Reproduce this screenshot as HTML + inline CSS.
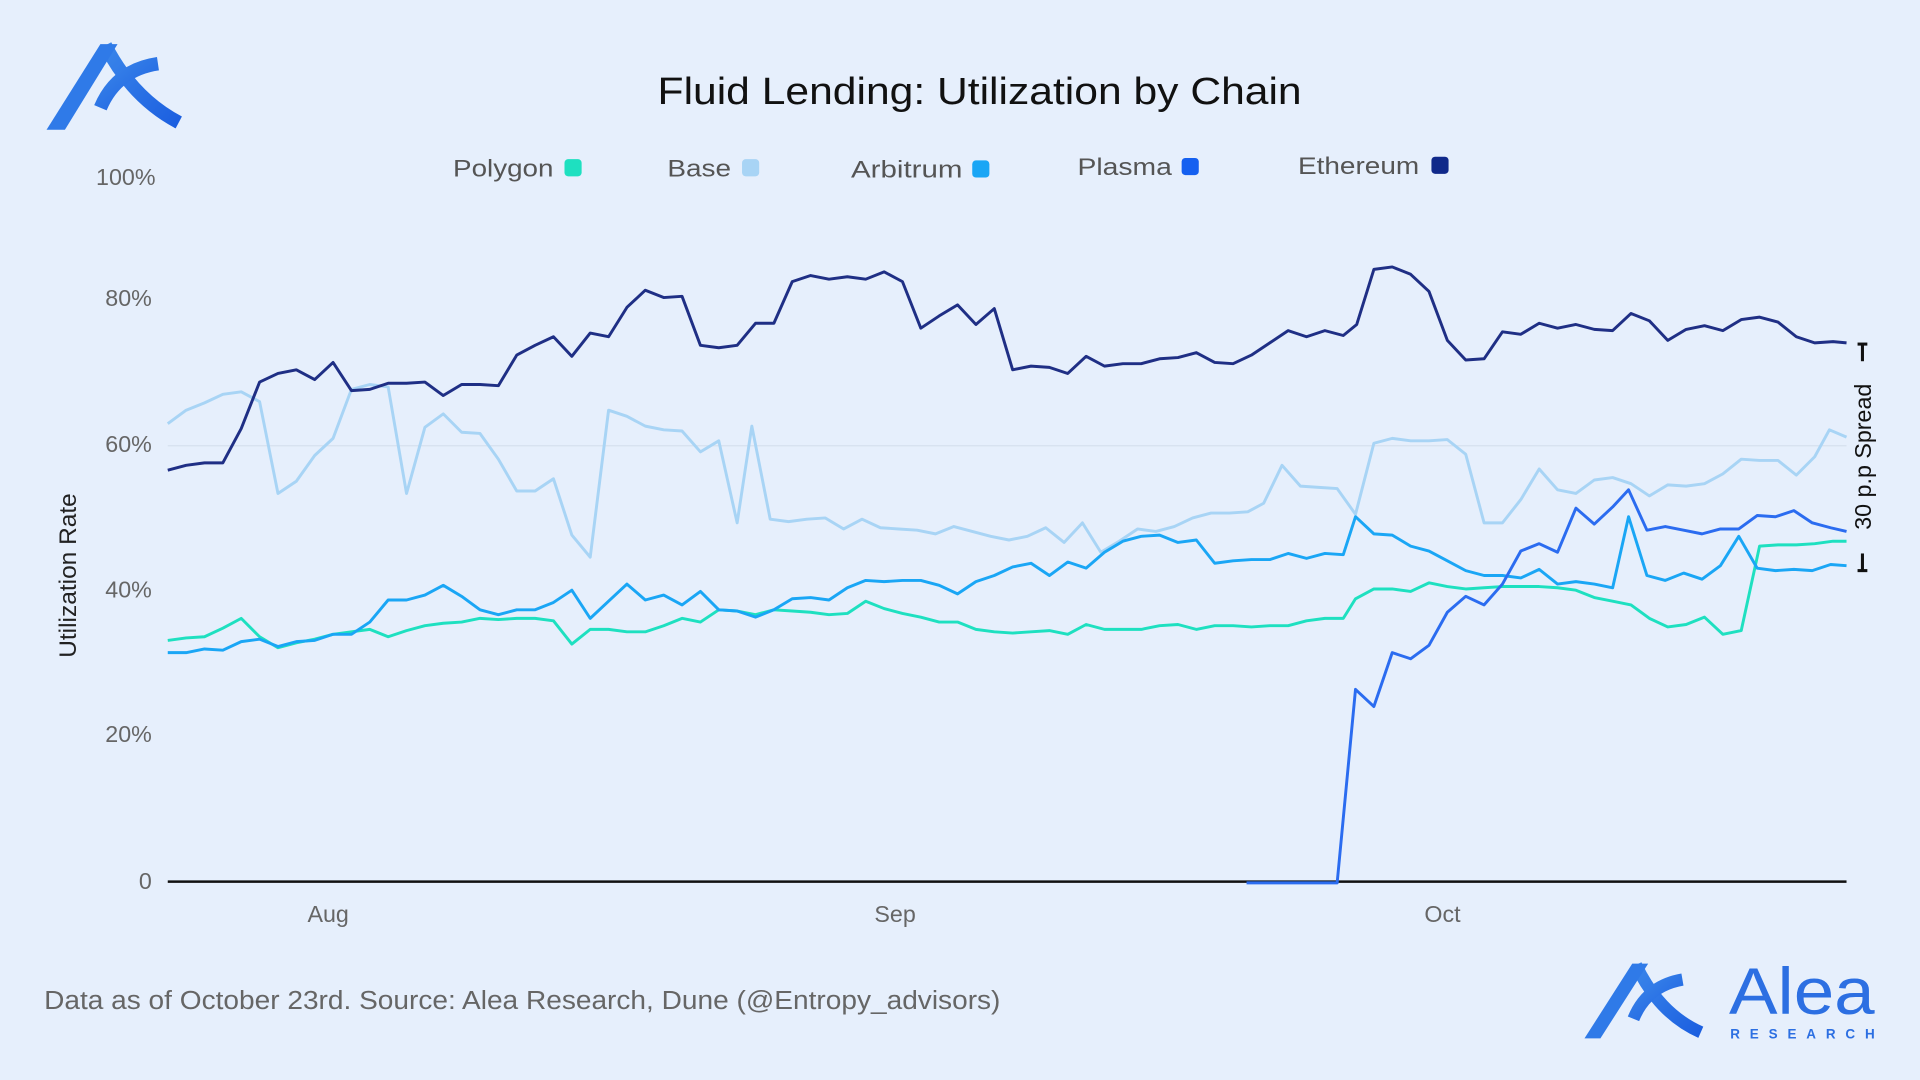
<!DOCTYPE html>
<html><head><meta charset="utf-8"><style>
html,body{margin:0;padding:0;background:#e6effc;width:1920px;height:1080px;overflow:hidden}
svg{display:block}
text{font-family:"Liberation Sans",sans-serif}
</style></head><body>
<svg width="1920" height="1080" viewBox="0 0 1568 882" xmlns="http://www.w3.org/2000/svg">
<rect width="1568" height="882" fill="#e6effc"/>
<defs><linearGradient id="g" x1="0" y1="0" x2="1" y2="1"><stop offset="0" stop-color="#3a86ea"/><stop offset="1" stop-color="#1c5fe0"/></linearGradient></defs>
<!-- top-left logo -->
<g fill="none" stroke="url(#g)" stroke-width="11">
<path d="M86 37 Q108 80 146 100"/>
<path d="M129 52 Q95 57 82 88"/>
</g>
<path d="M38 106 L82 36 L96 36 L53 106 Z" fill="#2f7ae8"/>
<text x="537" y="85" font-size="31" fill="#111" textLength="526" lengthAdjust="spacingAndGlyphs">Fluid Lending: Utilization by Chain</text>
<!-- legend -->
<g font-size="20" fill="#555">
<text x="370" y="144" textLength="82" lengthAdjust="spacingAndGlyphs">Polygon</text><rect x="461" y="130" width="14" height="14" rx="3" fill="#1ee0c0"/>
<text x="545" y="144" textLength="52" lengthAdjust="spacingAndGlyphs">Base</text><rect x="606" y="130" width="14" height="14" rx="3" fill="#a8d4f5"/>
<text x="695" y="145" textLength="91" lengthAdjust="spacingAndGlyphs">Arbitrum</text><rect x="794" y="131" width="14" height="14" rx="3" fill="#1aa6f5"/>
<text x="880" y="143" textLength="77" lengthAdjust="spacingAndGlyphs">Plasma</text><rect x="965" y="129" width="14" height="14" rx="3" fill="#1560f0"/>
<text x="1060" y="142" textLength="99" lengthAdjust="spacingAndGlyphs">Ethereum</text><rect x="1169" y="128" width="14" height="14" rx="3" fill="#10298a"/>
</g>
<!-- y labels -->
<g font-size="19" fill="#666" text-anchor="end">
<text x="127" y="151">100%</text><text x="124" y="250">80%</text><text x="124" y="369">60%</text>
<text x="124" y="488">40%</text><text x="124" y="606">20%</text><text x="124" y="726">0</text>
</g>
<text transform="translate(62,470) rotate(-90)" font-size="20" fill="#222" text-anchor="middle">Utilization Rate</text>
<line x1="137" y1="364" x2="1508" y2="364" stroke="#d6e0ee" stroke-width="1"/>
<line x1="137" y1="720" x2="1508" y2="720" stroke="#111" stroke-width="2"/>
<g font-size="19" fill="#666" text-anchor="middle">
<text x="268" y="753">Aug</text><text x="731" y="753">Sep</text><text x="1178" y="753">Oct</text>
</g>
<g fill="none" stroke-width="2.4" stroke-linejoin="round">
<polyline stroke="#a8d4f5" points="137,346 152,335 167,329 182,322 197,320 212,328 227,403 242,393 257,372 272,358 287,318 302,314 317,316 332,403 347,349 362,338 377,353 392,354 407,375 422,401 437,401 452,391 467,437 482,455 497,335 512,340 527,348 542,351 557,352 572,369 587,360 602,427 614,348 629,424 644,426 659,424 674,423 689,432 704,424 719,431 734,432 749,433 764,436 779,430 794,434 809,438 824,441 839,438 854,431 869,443 884,427 899,451 914,442 929,432 944,434 959,430 974,423 989,419 1004,419 1019,418 1032,411 1047,380 1062,397 1077,398 1092,399 1107,420 1122,362 1137,358 1152,360 1167,360 1182,359 1197,371 1212,427 1227,427 1242,408 1257,383 1272,400 1287,403 1302,392 1317,390 1332,395 1347,405 1362,396 1377,397 1392,395 1407,387 1422,375 1437,376 1452,376 1467,388 1482,373 1494,351 1508,357"/>
<polyline stroke="#1ee0c0" points="137,523 152,521 167,520 182,513 197,505 212,520 227,529 242,525 257,522 272,518 287,516 302,514 317,520 332,515 347,511 362,509 377,508 392,505 407,506 422,505 437,505 452,507 467,526 482,514 497,514 512,516 527,516 542,511 557,505 572,508 587,498 602,499 617,502 632,498 647,499 662,500 677,502 692,501 707,491 722,497 737,501 752,504 767,508 782,508 797,514 812,516 827,517 842,516 857,515 872,518 887,510 902,514 917,514 932,514 947,511 962,510 977,514 992,511 1007,511 1022,512 1037,511 1052,511 1067,507 1082,505 1097,505 1107,489 1122,481 1137,481 1152,483 1167,476 1182,479 1197,481 1212,480 1227,479 1242,479 1257,479 1272,480 1287,482 1302,488 1317,491 1332,494 1347,505 1362,512 1377,510 1392,504 1407,518 1422,515 1437,446 1452,445 1467,445 1482,444 1497,442 1508,442"/>
<polyline stroke="#1aa6f5" points="137,533 152,533 167,530 182,531 197,524 212,522 227,528 242,524 257,523 272,518 287,518 302,508 317,490 332,490 347,486 362,478 377,487 392,498 407,502 422,498 437,498 452,492 467,482 482,505 497,491 512,477 527,490 542,486 557,494 572,483 587,498 602,499 617,504 632,498 647,489 662,488 677,490 692,480 707,474 722,475 737,474 752,474 767,478 782,485 797,475 812,470 827,463 842,460 857,470 872,459 887,464 902,451 917,442 932,438 947,437 962,443 977,441 992,460 1007,458 1022,457 1037,457 1052,452 1067,456 1082,452 1097,453 1107,422 1122,436 1137,437 1152,446 1167,450 1182,458 1197,466 1212,470 1227,470 1242,472 1257,465 1272,477 1287,475 1302,477 1317,480 1330,422 1345,470 1360,474 1375,468 1390,473 1405,462 1420,438 1435,464 1450,466 1465,465 1480,466 1495,461 1508,462"/>
<polyline stroke="#2b6cf0" points="1018,721 1092,721 1107,563 1122,577 1137,533 1152,538 1167,527 1182,500 1197,487 1212,494 1227,477 1242,450 1257,444 1272,451 1287,415 1302,428 1317,414 1330,400 1345,433 1360,430 1375,433 1390,436 1405,432 1420,432 1435,421 1450,422 1465,417 1480,427 1495,431 1508,434"/>
<polyline stroke="#1f2f85" points="137,384 152,380 167,378 182,378 197,350 212,312 227,305 242,302 257,310 272,296 287,319 302,318 317,313 332,313 347,312 362,323 377,314 392,314 407,315 422,290 437,282 452,275 467,291 482,272 497,275 512,251 527,237 542,243 557,242 572,282 587,284 602,282 617,264 632,264 647,230 662,225 677,228 692,226 707,228 722,222 737,230 752,268 767,258 782,249 797,265 812,252 827,302 842,299 857,300 872,305 887,291 902,299 917,297 932,297 947,293 962,292 977,288 992,296 1007,297 1022,290 1037,280 1052,270 1067,275 1082,270 1097,274 1108,265 1122,220 1137,218 1152,224 1167,238 1182,278 1197,294 1212,293 1227,271 1242,273 1257,264 1272,268 1287,265 1302,269 1317,270 1332,256 1347,262 1362,278 1377,269 1392,266 1407,270 1422,261 1437,259 1452,263 1467,275 1482,280 1497,279 1508,280"/>
</g>
<!-- spread annotation -->
<g stroke="#111" stroke-width="2.5">
<line x1="1521" y1="281" x2="1521" y2="295"/>
<line x1="1521" y1="452" x2="1521" y2="466"/>
<line x1="1517" y1="281" x2="1525" y2="281"/>
<line x1="1517" y1="466" x2="1525" y2="466"/>
</g>
<text transform="translate(1528,373) rotate(-90)" font-size="19" fill="#111" text-anchor="middle">30 p.p Spread</text>
<text x="36" y="824" font-size="21" fill="#666" textLength="781" lengthAdjust="spacingAndGlyphs">Data as of October 23rd. Source: Alea Research, Dune (@Entropy_advisors)</text>
<!-- bottom-right logo -->
<g fill="none" stroke="url(#g)" stroke-width="10">
<path d="M1336 788 Q1355 828 1389 843"/>
<path d="M1374 800 Q1345 805 1334 832"/>
</g>
<path d="M1294 848 L1333 787 L1346 787 L1307 848 Z" fill="#2f7ae8"/>
<text x="1412" y="828" font-size="54" fill="#2c6fe2" textLength="119" lengthAdjust="spacingAndGlyphs">Alea</text>
<text x="1413" y="848" font-size="11" fill="#2c6fe2" font-weight="bold" textLength="118" lengthAdjust="spacing">RESEARCH</text>
</svg>
</body></html>
